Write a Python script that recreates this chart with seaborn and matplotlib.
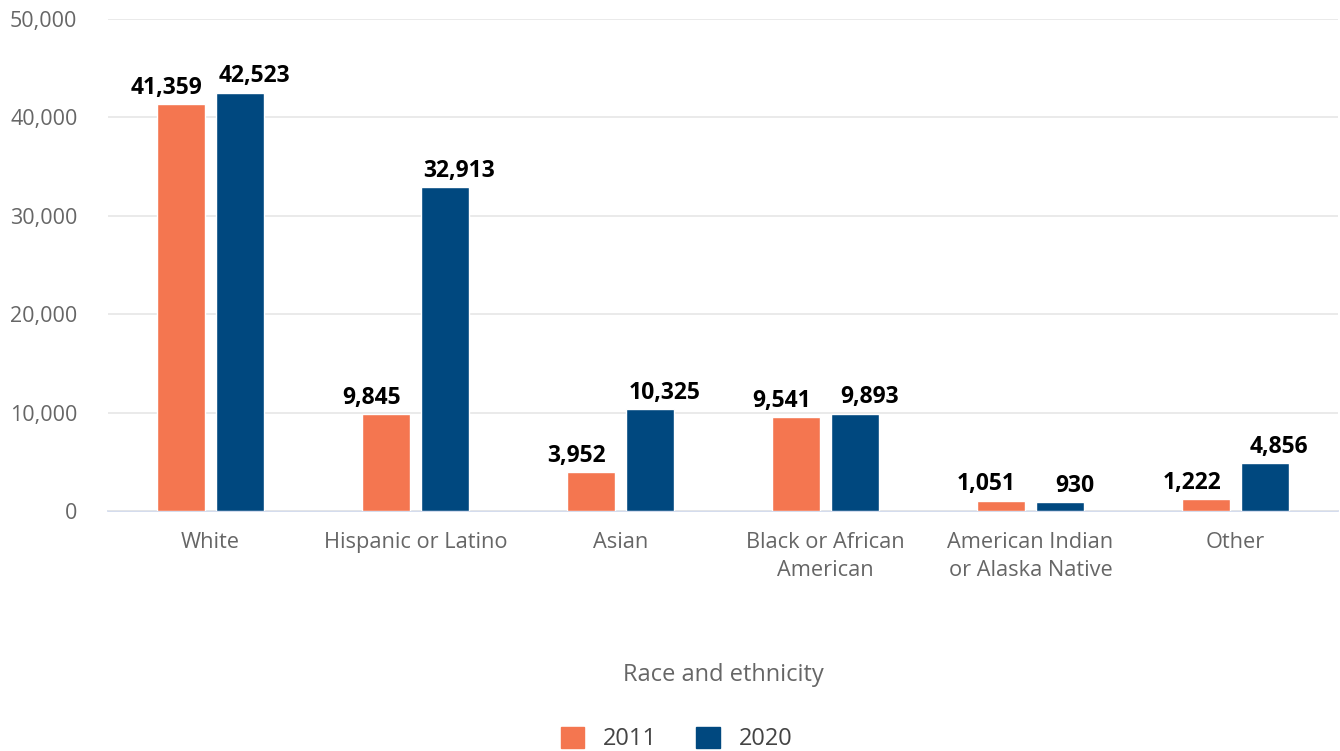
import pandas as pd
import matplotlib.pyplot as plt
import seaborn as sns

# Data
categories = ["White", "Hispanic or Latino", "Asian", "Black or African\nAmerican",
              "American Indian\nor Alaska Native", "Other"]
values_2011 = [41359, 9845, 3952, 9541, 1051, 1222]
values_2020 = [42523, 32913, 10325, 9893, 930, 4856]
years = ["2011", "2020"]
colors = ["#f47650", "#00487f"]

df = pd.DataFrame({
    "Race": categories * 2,
    "Year": [years[0]] * len(categories) + [years[1]] * len(categories),
    "Count": values_2011 + values_2020,
})

sns.set_style("white")
plt.rcParams["font.family"] = ["Open Sans", "DejaVu Sans"]

fig = plt.figure(figsize=(13.4, 7.51), dpi=100)
ax = fig.add_axes([108 / 1340, 1 - 511 / 751, 1230 / 1340, 492 / 751])

sns.barplot(data=df, x="Race", y="Count", hue="Year", palette=colors, saturation=1,
            width=0.585, gap=0.2, edgecolor="white", linewidth=1, ax=ax, legend=False)

# value labels, nudged outward like the original
for cont, dx in zip(ax.containers, [-10, 10]):
    for bar, v in zip(cont, cont.datavalues):
        ax.annotate(f"{v:,.0f}", (bar.get_x() + bar.get_width() / 2, bar.get_height()),
                    xytext=(dx, 3), textcoords="offset points", ha="center", va="bottom",
                    fontsize=16.5, fontweight="bold", color="black")

ax.set_ylim(0, 50000)
ax.set_xlim(-0.5, 5.5)
ax.set_yticks(range(0, 50001, 10000))
ax.set_yticklabels([f"{t:,}" for t in range(0, 50001, 10000)])
ax.grid(axis="y", color="#e6e6e6", linewidth=1.2)
ax.set_axisbelow(True)
for s in ["top", "right", "left"]:
    ax.spines[s].set_visible(False)
ax.spines["bottom"].set_color("#ccd6eb")
ax.spines["bottom"].set_linewidth(1.2)
ax.spines["bottom"].set_zorder(0.5)

ax.tick_params(axis="y", length=0, pad=22, labelsize=15.5, labelcolor="#666666")
ax.tick_params(axis="x", length=10, width=1.2, color="#ccd6eb", pad=5,
               labelsize=15.7, labelcolor="#666666")
for lbl in ax.get_xticklabels():
    lbl.set_linespacing(1.45)

ax.set_ylabel("")
ax.set_xlabel("Race and ethnicity", fontsize=17, color="#666666")
ax.xaxis.set_label_coords(0.5, -0.333)
ax.xaxis.label.set_va("center")

handles = [plt.Rectangle((0, 0), 1, 1, color=c) for c in colors]
fig.legend(handles, years, loc="center", bbox_to_anchor=(0.505, 0.016), ncol=2,
           frameon=False, fontsize=17, handlelength=1.0, handleheight=1.0,
           columnspacing=1.65, handletextpad=0.8, labelcolor="#444444")

plt.savefig("out.png", dpi=100)
plt.close()
